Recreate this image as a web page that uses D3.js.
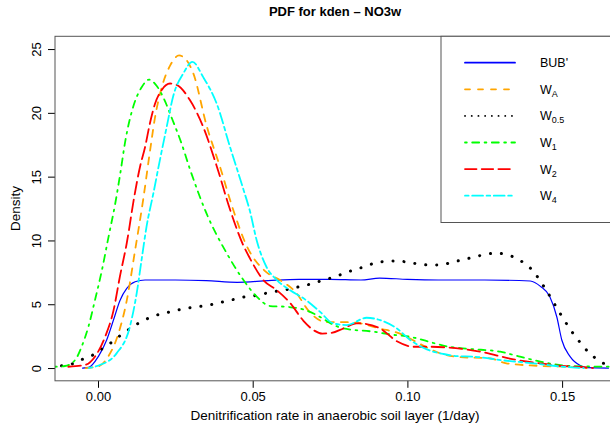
<!DOCTYPE html>
<meta charset="utf-8">
<style>
body { margin: 0; background: #fff; }
svg { font-family: "Liberation Sans", Arial, sans-serif; }
.axis text { font-size: 13px; fill: #000; }
.axis line { stroke: #000; }
.curve { fill: none; stroke-linecap: round; stroke-linejoin: round; }
</style>
<svg width="610" height="430"></svg>
<script src="https://d3js.org/d3.v7.min.js"></script>
<script>
// density curves, [x, density]
var bub = [[-0.005,0],[-0.003,0.05],[0.0001,0.9],[0.0028,2.2],[0.005,3.76],[0.0071,5.3],[0.0093,6.24],[0.012,6.76],[0.0152,6.9],[0.025,6.9],[0.035,6.85],[0.045,6.72],[0.055,6.85],[0.065,6.95],[0.075,6.95],[0.085,6.9],[0.091,7.05],[0.1,6.95],[0.11,6.9],[0.125,6.9],[0.1397,6.82],[0.143,6.4],[0.146,5.6],[0.1483,4.0],[0.1499,2.2],[0.1526,0.9],[0.156,0.18],[0.158,0.03],[0.165,0]];
var wA = [[-0.004,0],[0,0.12],[0.0033,0.9],[0.0066,2.7],[0.0093,5.3],[0.012,9.25],[0.0146,13.2],[0.0168,17.0],[0.0184,19.6],[0.0206,22.0],[0.0233,23.7],[0.0262,24.5],[0.0287,24.1],[0.0308,23.1],[0.0351,19.0],[0.0394,15.8],[0.0437,12.4],[0.048,9.6],[0.0545,7.5],[0.0588,6.9],[0.0642,5.85],[0.068,4.5],[0.0739,3.6],[0.0793,3.6],[0.0836,3.55],[0.091,3.1],[0.0976,2.7],[0.104,1.9],[0.1106,1.15],[0.117,0.86],[0.1267,0.76],[0.132,0.37],[0.1418,0.18],[0.1515,0.1],[0.158,0]];
var w05 = [[-0.0118,0.18],[-0.0085,0.31],[-0.0051,0.68],[-0.0018,1.0],[0.0012,1.49],[0.0042,1.98],[0.0071,2.53],[0.01,3.03],[0.013,3.5],[0.0163,3.9],[0.0197,4.2],[0.0233,4.4],[0.0268,4.6],[0.0303,4.75],[0.0338,4.86],[0.0373,5.0],[0.0407,5.2],[0.0443,5.4],[0.0478,5.6],[0.0515,5.7],[0.055,5.9],[0.062,6.2],[0.0655,6.4],[0.069,6.6],[0.0723,6.85],[0.0759,7.1],[0.0793,7.4],[0.0828,7.7],[0.0863,7.95],[0.0897,8.25],[0.0931,8.36],[0.0968,8.4],[0.1003,8.28],[0.1039,8.15],[0.1073,8.07],[0.111,8.1],[0.1146,8.3],[0.1181,8.5],[0.1216,8.7],[0.1251,8.9],[0.1286,9.0],[0.1321,8.9],[0.1356,8.54],[0.1386,8.07],[0.1411,7.47],[0.1431,6.76],[0.145,6.06],[0.1469,5.28],[0.1488,4.5],[0.1507,3.76],[0.1526,3.03],[0.1548,2.33],[0.1569,1.67],[0.1596,1.02],[0.1623,0.5],[0.165,0.24],[0.168,0.1]];
var w1 = [[-0.0139,0.1],[-0.0107,0.16],[-0.0074,0.63],[-0.0053,1.67],[-0.0031,3.24],[-0.001,5.3],[0.0012,7.6],[0.0035,10.4],[0.0055,12.8],[0.0071,15.1],[0.0089,17.9],[0.0114,20.5],[0.0141,22.0],[0.0165,22.6],[0.019,22.1],[0.0215,21.0],[0.024,19.5],[0.027,17.6],[0.0297,15.6],[0.0351,12.1],[0.0416,9.0],[0.047,6.9],[0.0513,5.6],[0.0556,4.86],[0.061,4.8],[0.0675,4.5],[0.0718,4.0],[0.076,3.4],[0.0793,3.1],[0.089,2.85],[0.0955,2.6],[0.1009,2.45],[0.107,2.06],[0.1127,1.7],[0.12,1.5],[0.13,1.28],[0.1364,0.89],[0.143,0.5],[0.1515,0.18],[0.16,0.12],[0.168,0.1]];
var w2 = [[-0.0096,0.1],[-0.0042,0.24],[-0.001,0.89],[0.0023,2.45],[0.005,4.5],[0.0071,7.2],[0.0093,9.8],[0.0117,13.4],[0.0136,15.8],[0.0152,17.3],[0.0168,19.2],[0.0184,20.7],[0.0206,21.8],[0.0233,22.3],[0.0254,22.2],[0.0297,21.0],[0.034,18.9],[0.0384,15.8],[0.0427,12.4],[0.047,9.6],[0.0491,8.6],[0.0534,6.9],[0.0578,6.1],[0.0621,5.1],[0.0664,3.7],[0.0695,3.0],[0.0725,2.7],[0.0755,2.75],[0.0793,3.1],[0.0836,3.5],[0.0868,3.45],[0.0912,3.1],[0.0966,2.1],[0.102,1.67],[0.1073,1.67],[0.1135,1.6],[0.1235,1.28],[0.1343,0.68],[0.1429,0.37],[0.1504,0.16],[0.156,0.08],[0.16,0]];
var w4 = [[-0.003,0],[0.0006,0.24],[0.006,1.15],[0.0103,3.24],[0.0125,5.85],[0.0141,8.5],[0.0157,11.1],[0.0179,13.7],[0.02,16.3],[0.0222,18.9],[0.0243,21.3],[0.0276,23.1],[0.0305,24.0],[0.034,22.8],[0.0384,20.7],[0.0427,17.3],[0.047,14.0],[0.0491,12.3],[0.0513,10.0],[0.0545,7.9],[0.0578,6.9],[0.0621,6.1],[0.0668,5.4],[0.0718,4.4],[0.076,3.5],[0.0804,3.37],[0.0868,3.94],[0.0912,3.76],[0.0966,3.1],[0.1009,2.2],[0.1063,1.46],[0.1117,1.1],[0.116,0.94],[0.1213,0.89],[0.1321,0.57],[0.1407,0.37],[0.1504,0.1],[0.157,0]];

var xTicks = [0, 0.05, 0.10, 0.15];
var yTicks = [0, 5, 10, 15, 20, 25];

// legend: main text + subscript
var labels = [["BUB'", ""], ["W", "A"], ["W", "0.5"], ["W", "1"], ["W", "2"], ["W", "4"]];

var series = [
  {d: bub, color: "#0000ff", w: 1.2, dash: null,            ldash: null},
  {d: wA,  color: "#ffa500", w: 1.8, dash: "7 7",           ldash: "5 8"},
  {d: w05, color: "#000000", w: 3,   dash: "0.1 10.9",      ldash: "0.1 6.6"},
  {d: w1,  color: "#00ff00", w: 1.8, dash: "1.8 5.4 7 5.4", ldash: "1.8 5.4 7 5.4"},
  {d: w2,  color: "#ff0000", w: 1.8, dash: "12.6 5.4",      ldash: "11.5 5.2"},
  {d: w4,  color: "#00ffff", w: 1.8, dash: "3.6 3.6 10.8 3.6", ldash: "3.6 3.6 10.8 3.6"}
];

var svg = d3.select("svg");
var pLeft = 55, pRight = 615, pTop = 36.3, pBottom = 380.8;

var x = d3.scaleLinear().domain([-0.0139, 0.1671]).range([pLeft, pRight]);
var y = d3.scaleLinear().domain([-1, 26]).range([pBottom, pTop]);

svg.append("clipPath").attr("id", "plot")
  .append("rect").attr("x", pLeft).attr("y", pTop)
  .attr("width", pRight - pLeft).attr("height", pBottom - pTop);

var line = d3.line()
  .x(function(d) { return x(d[0]); })
  .y(function(d) { return y(d[1]); })
  .curve(d3.curveMonotoneX);

var g = svg.append("g").attr("clip-path", "url(#plot)");
series.forEach(function(s) {
  g.append("path")
    .attr("class", "curve")
    .attr("d", line(s.d))
    .attr("stroke", s.color)
    .attr("stroke-width", s.w)
    .attr("stroke-dasharray", s.dash);
});

// axes
var xa = svg.append("g").attr("class", "axis")
  .attr("transform", "translate(0," + pBottom + ")")
  .call(d3.axisBottom(x).tickValues(xTicks).tickFormat(d3.format(".2f")).tickSize(7).tickPadding(4));
xa.select(".domain").remove();

var ya = svg.append("g").attr("class", "axis")
  .attr("transform", "translate(" + pLeft + ",0)")
  .call(d3.axisLeft(y).tickValues(yTicks).tickSize(7));
ya.select(".domain").remove();
ya.selectAll(".tick text")
  .attr("x", 0).attr("dy", null)
  .attr("text-anchor", "middle")
  .attr("transform", "translate(-19,0) rotate(-90)")
  .attr("dominant-baseline", "central");

// box
svg.append("rect")
  .attr("x", pLeft).attr("y", pTop)
  .attr("width", pRight - pLeft).attr("height", pBottom - pTop)
  .attr("fill", "none").attr("stroke", "#555").attr("stroke-width", 1);

// titles
svg.append("text")
  .attr("x", 335).attr("y", 16)
  .attr("text-anchor", "middle")
  .style("font-weight", "bold").style("font-size", "13px")
  .text("PDF for kden \u2013 NO3w");

svg.append("text")
  .attr("x", 335).attr("y", 420)
  .attr("text-anchor", "middle")
  .style("font-size", "13.5px")
  .text("Denitrification rate in anaerobic soil layer (1/day)");

svg.append("text")
  .attr("transform", "translate(20," + ((pTop + pBottom) / 2) + ") rotate(-90)")
  .attr("text-anchor", "middle")
  .style("font-size", "13.5px")
  .text("Density");

// legend
var lg = svg.append("g");
lg.append("rect")
  .attr("x", 441).attr("y", pTop)
  .attr("width", 200).attr("height", 222.5 - pTop)
  .attr("fill", "#fff").attr("stroke", "#555");

var rowY = d3.scaleLinear().domain([0, 5]).range([62.7, 195.7]);
series.forEach(function(s, i) {
  var yy = rowY(i);
  lg.append("line")
    .attr("x1", 465).attr("x2", 515).attr("y1", yy).attr("y2", yy)
    .attr("stroke", s.color).attr("stroke-width", 1.8)
    .attr("stroke-linecap", "round")
    .attr("stroke-dasharray", s.ldash);
  var t = lg.append("text")
    .attr("x", 540).attr("y", yy + 4.5)
    .style("font-size", "12.5px");
  t.append("tspan").text(labels[i][0]);
  if (labels[i][1]) {
    t.append("tspan").attr("dy", 3).style("font-size", "9px").text(labels[i][1]);
  }
});
</script>
